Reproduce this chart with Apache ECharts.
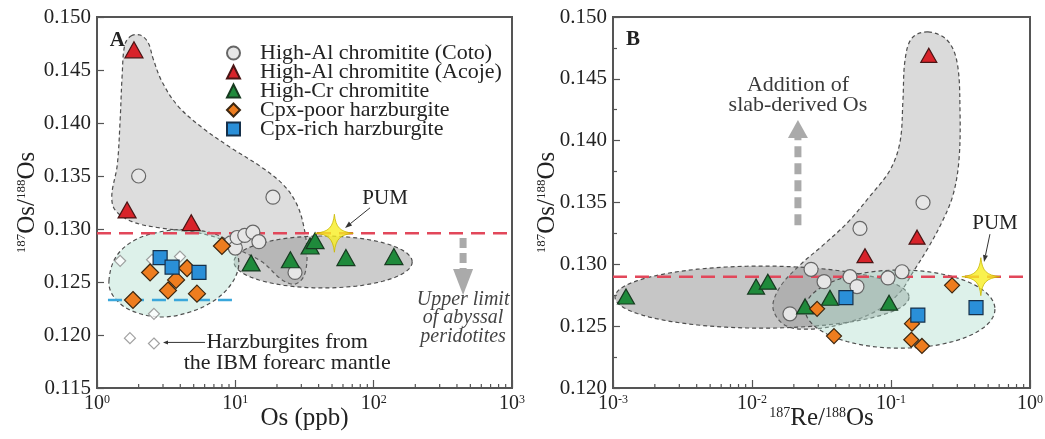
<!DOCTYPE html>
<html>
<head>
<meta charset="utf-8">
<script src="https://cdn.jsdelivr.net/npm/echarts@6/dist/echarts.min.js"></script>
<style>
  html, body { margin: 0; padding: 0; background: #fff; }
  #chart { width: 1045px; height: 439px; }
</style>
</head>
<body>
<div id="chart"></div>
<script>
// ---------- Panel A: Os concentration (ppb) vs 187Os/188Os ----------
const cotoA    = [[2.0,0.1350],[18.7,0.1330],[9.3,0.1287],[10.0,0.1282],[10.3,0.1292],[11.7,0.1294],[13.4,0.1297],[14.8,0.1288],[27,0.1259]];
const acojeA   = [[1.85,0.1469],[1.65,0.1318],[4.8,0.1306]];
const highCrA  = [[13,0.1268],[25,0.1271],[34.7,0.1284],[37.7,0.1289],[63,0.1273],[140,0.1274]];
const cpxPoorA = [[1.82,0.1233],[2.42,0.1259],[3.26,0.1242],[3.73,0.1252],[4.48,0.1263],[5.28,0.1239],[8.0,0.1284]];
const cpxRichA = [[2.86,0.1273],[3.49,0.1264],[5.46,0.1259]];
const ibmA     = [[1.47,0.1270],[2.5,0.1271],[3.98,0.1274],[2.58,0.1220],[1.73,0.1197],[2.58,0.1192]];
const pumA     = [[52,0.1296]];

// ---------- Panel B: 187Re/188Os vs 187Os/188Os ----------
const cotoB    = [[0.170,0.1350],[0.0598,0.1329],[0.0266,0.1296],[0.0330,0.1286],[0.0507,0.1290],[0.0569,0.1282],[0.0951,0.1289],[0.120,0.1294],[0.01875,0.1260]];
const acojeB   = [[0.187,0.1469],[0.154,0.1322],[0.065,0.1307]];
const highCrB  = [[0.00124,0.1274],[0.0107,0.1282],[0.0130,0.1286],[0.0241,0.1266],[0.0364,0.1273],[0.0968,0.1269]];
const cpxPoorB = [[0.0294,0.1264],[0.0389,0.1242],[0.1416,0.1252],[0.140,0.1239],[0.167,0.1234],[0.275,0.1283]];
const cpxRichB = [[0.0474,0.1273],[0.156,0.1259],[0.409,0.1265]];
const pumB     = [[0.443,0.1290]];

// Reference levels
const pumRatioA = 0.1296;
const pumRatioB = 0.1290;
const abyssalLimit = 0.1233;
const abyssalSpan = [1.2, 10.3];

// Field envelopes (data space)
const chromFieldA = [[1.76,0.1482],[2.05,0.1483],[2.34,0.1476],[2.54,0.1461],[2.95,0.1439],[3.85,0.1416],[5.84,0.1395],[9.46,0.1376],[15.6,0.1358],[22.5,0.1341],[27.9,0.1323],[31.4,0.1301],[33.0,0.1276],[31.4,0.1256],[27.0,0.1248],[21.8,0.1252],[15.6,0.1269],[10.8,0.1280],[8.0,0.1290],[5.11,0.1297],[2.86,0.1301],[1.79,0.1307],[1.35,0.1318],[1.28,0.1332],[1.40,0.1360],[1.47,0.1403],[1.52,0.1445],[1.59,0.1474]];
const harzFieldA  = [[1.22,0.1251],[1.37,0.12736],[1.88,0.12896],[3.10,0.12981],[5.11,0.1299],[7.75,0.12934],[9.79,0.12821],[10.6,0.1267],[9.46,0.12491],[7.13,0.1233],[4.70,0.12217],[2.86,0.1217],[1.73,0.12236],[1.31,0.12368]];
const crFieldA    = { center: [43.1, 0.12689], rLog: 0.644, ry: 0.00245 };
const chromFieldB = [[0.1845,0.14879],[0.253,0.14814],[0.2985,0.14636],[0.3136,0.14248],[0.3083,0.13843],[0.2793,0.1356],[0.2328,0.13342],[0.1845,0.13131],[0.1439,0.12937],[0.1161,0.12775],[0.0805,0.1263],[0.0467,0.12524],[0.0261,0.12476],[0.01726,0.12508],[0.01416,0.12646],[0.01589,0.12816],[0.02213,0.12994],[0.03245,0.13155],[0.0491,0.13342],[0.0706,0.13552],[0.0984,0.13762],[0.1161,0.13989],[0.1219,0.14329],[0.1262,0.14652],[0.1415,0.1483]];
const crFieldB    = { center: [0.0118, 0.12735], rLog: 1.058, ry: 0.00251 };
const harzFieldB  = { center: [0.1161, 0.12638], rLog: 0.683, ry: 0.00316 };

// Axis ranges and ticks
const yRangeA = [0.115, 0.150];
const yRangeB = [0.120, 0.150];
const xRangeA = [1, 1000];
const xRangeB = [0.001, 1];
const minorMult = [2,3,4,5,6,7,8,9];
const decadesA = [1, 10, 100];
const decadesB = [0.001, 0.01, 0.1];

const names = ['High-Al chromitite (Coto)','High-Al chromitite (Acoje)','High-Cr chromitite','Cpx-poor harzburgite','Cpx-rich harzburgite'];

const SERIF = '"Liberation Serif", "DejaVu Serif", serif';
const INK = '#222';
const FRAME = '#555';

function minorTicks(decades) {
  const out = [];
  decades.forEach(d => minorMult.forEach(m => out.push(+(d * m).toPrecision(3))));
  return out;
}

// ---------- render helpers ----------
function polyOutline(points, fill) {
  return function (params, api) {
    return {
      type: 'polygon',
      shape: { points: points.map(p => api.coord(p)), smooth: 0.35 },
      style: { fill: fill, stroke: '#4d4d4d', lineWidth: 1.2, lineDash: [4, 3] }
    };
  };
}
function ellipseOutline(f, fill) {
  return function (params, api) {
    const c = api.coord(f.center);
    const rx = api.coord([f.center[0] * Math.pow(10, f.rLog), f.center[1]])[0] - c[0];
    const ry = c[1] - api.coord([f.center[0], f.center[1] + f.ry])[1];
    const pts = [];
    for (let i = 0; i < 90; i++) {
      const t = i / 90 * Math.PI * 2;
      pts.push([c[0] + rx * Math.cos(t), c[1] + ry * Math.sin(t)]);
    }
    return {
      type: 'polygon',
      shape: { points: pts },
      style: { fill: fill, stroke: '#4d4d4d', lineWidth: 1.2, lineDash: [4, 3] }
    };
  };
}
function fieldSeries(grid, anchor, renderItem, z) {
  return { type: 'custom', xAxisIndex: grid, yAxisIndex: grid, data: [anchor], renderItem: renderItem, clip: true, silent: true, z: z };
}

function tickSeries(grid, values, yMin) {
  return {
    type: 'custom', xAxisIndex: grid, yAxisIndex: grid, silent: true, z: 6,
    data: values.map(v => [v, yMin]),
    renderItem: function (params, api) {
      const p = api.coord([api.value(0), api.value(1)]);
      return { type: 'line', shape: { x1: p[0], y1: p[1], x2: p[0], y2: p[1] - 4 }, style: { stroke: FRAME, lineWidth: 1.2 } };
    }
  };
}

// straight arrow (optionally dashed shaft) between two data points
function arrowSeries(grid, from, to, opt) {
  return {
    type: 'custom', xAxisIndex: grid, yAxisIndex: grid, silent: true, z: opt.z || 7,
    data: [from],
    renderItem: function (params, api) {
      const a = api.coord(from), b = api.coord(to);
      const dx = b[0] - a[0], dy = b[1] - a[1];
      const L = Math.sqrt(dx * dx + dy * dy), ux = dx / L, uy = dy / L;
      const bx = b[0] - ux * opt.head, by = b[1] - uy * opt.head;
      const hw = opt.headW / 2;
      return {
        type: 'group',
        children: [
          { type: 'line', shape: { x1: a[0], y1: a[1], x2: bx, y2: by },
            style: { stroke: opt.color, lineWidth: opt.width, lineDash: opt.dash || null } },
          { type: 'polygon', shape: { points: [[b[0], b[1]], [bx - uy * hw, by + ux * hw], [bx + uy * hw, by - ux * hw]] },
            style: { fill: opt.color } }
        ]
      };
    }
  };
}

function textSeries(grid, items) {
  return {
    type: 'custom', xAxisIndex: grid, yAxisIndex: grid, silent: true, z: 8,
    data: items.map(t => t.at),
    renderItem: function (params, api) {
      const t = items[params.dataIndex];
      const p = api.coord(t.at);
      return {
        type: 'text', x: p[0], y: p[1],
        style: { text: t.text, font: t.font, fill: t.color || INK, align: t.align || 'center', verticalAlign: 'middle' }
      };
    }
  };
}

const markerStyle = {
  coto:    { symbol: 'circle',   color: '#e6e6e6', border: '#666' },
  acoje:   { symbol: 'triangle', color: '#d8232a', border: '#4a1515' },
  highCr:  { symbol: 'triangle', color: '#1f8a3b', border: '#173a20' },
  cpxPoor: { symbol: 'diamond',  color: '#ee7d1f', border: '#3d2710' },
  cpxRich: { symbol: 'rect',     color: '#2a8fd8', border: '#16304a' }
};
function scatter(grid, name, data, st, size) {
  return {
    type: 'scatter', name: name, xAxisIndex: grid, yAxisIndex: grid, data: data,
    symbol: st.symbol, symbolSize: size, z: 5,
    itemStyle: { color: st.color, borderColor: st.border, borderWidth: 1.2, opacity: 1 },
    emphasis: { disabled: true }
  };
}

const STAR = 'path://M0,-20 C1.5,-6 6,-1.5 20,0 C6,1.5 1.5,6 0,20 C-1.5,6 -6,1.5 -20,0 C-6,-1.5 -1.5,-6 0,-20 Z';
function star(grid, data) {
  return {
    type: 'scatter', xAxisIndex: grid, yAxisIndex: grid, data: data, symbol: STAR, symbolSize: 38, z: 6,
    itemStyle: { color: '#f7ee22', borderColor: '#c9b800', borderWidth: 1 }, silent: true
  };
}
function hLine(grid, x0, x1, y, color) {
  return {
    type: 'line', xAxisIndex: grid, yAxisIndex: grid, data: [[x0, y], [x1, y]], symbol: 'none', z: 4, silent: true,
    lineStyle: { color: color, width: 2.5, type: [14, 8] }
  };
}

function logLabel(v) {
  const e = Math.round(Math.log10(v));
  return '10{s|' + e + '}';
}
function xAxis(grid, range, name) {
  return {
    gridIndex: grid, type: 'log', logBase: 10, min: range[0], max: range[1],
    name: name, nameLocation: 'middle', nameGap: 18, nameMoveOverlap: false,
    nameTextStyle: { fontFamily: SERIF, fontSize: 25, color: INK, rich: { s: { fontFamily: SERIF, fontSize: 14, color: INK, verticalAlign: 'top', padding: [0, 0, 10, 0] } } },
    axisLine: { show: false },
    axisTick: { inside: true, length: 8, lineStyle: { color: FRAME, width: 1.2 } },
    axisLabel: { margin: 6, fontFamily: SERIF, fontSize: 20, color: INK, formatter: logLabel,
      rich: { s: { fontFamily: SERIF, fontSize: 12, color: INK, verticalAlign: 'top', padding: [0, 0, 8, 0] } } },
    splitLine: { show: false }
  };
}
function yAxis(grid, range, minor, gap) {
  return {
    gridIndex: grid, type: 'value', min: range[0], max: range[1], interval: 0.005,
    name: '{s|187}Os/{s|188}Os', nameLocation: 'middle', nameRotate: 90, nameGap: gap, nameMoveOverlap: false,
    nameTextStyle: { fontFamily: SERIF, fontSize: 25, color: INK, rich: { s: { fontFamily: SERIF, fontSize: 13, color: INK, verticalAlign: 'top', padding: [0, 0, 10, 0] } } },
    axisLine: { show: false },
    axisTick: { inside: true, length: 7, lineStyle: { color: FRAME, width: 1.2 } },
    minorTick: { show: minor, splitNumber: 2, length: 4, lineStyle: { color: FRAME, width: 1.2 } },
    axisLabel: { margin: 6, fontFamily: SERIF, fontSize: 21, color: INK, formatter: v => v.toFixed(3) },
    splitLine: { show: false }
  };
}

const series = [
  // Panel A envelopes
  fieldSeries(0, chromFieldA[0], polyOutline(chromFieldA, 'rgba(150,150,150,0.32)'), 1),
  fieldSeries(0, crFieldA.center, ellipseOutline(crFieldA, 'rgba(120,120,120,0.38)'), 2),
  fieldSeries(0, harzFieldA[0], polyOutline(harzFieldA, 'rgba(175,222,205,0.42)'), 3),
  hLine(0, xRangeA[0], xRangeA[1], pumRatioA, '#e2475a'),
  hLine(0, abyssalSpan[0], abyssalSpan[1], abyssalLimit, '#3aa7db'),
  {
    type: 'scatter', xAxisIndex: 0, yAxisIndex: 0, data: ibmA, symbol: 'diamond', symbolSize: 11, z: 4, silent: true,
    itemStyle: { color: '#fff', borderColor: '#8a8a8a', borderWidth: 1.2 }
  },
  scatter(0, names[0], cotoA, markerStyle.coto, 14),
  scatter(0, names[1], acojeA, markerStyle.acoje, [18, 16]),
  scatter(0, names[2], highCrA, markerStyle.highCr, [18, 16]),
  scatter(0, names[3], cpxPoorA, markerStyle.cpxPoor, 17),
  scatter(0, names[4], cpxRichA, markerStyle.cpxRich, 14),
  star(0, pumA),
  tickSeries(0, minorTicks(decadesA), yRangeA[0]),
  arrowSeries(0, [443, 0.12915], [443, 0.12377], { color: '#aaaaaa', width: 7, head: 26, headW: 20, dash: [10, 5] }),
  arrowSeries(0, [94.2, 0.1320], [62.1, 0.1301], { color: '#333', width: 1, head: 7, headW: 5 }),
  arrowSeries(0, [6.04, 0.1193], [3.0, 0.1193], { color: '#333', width: 1, head: 5, headW: 4 }),
  textSeries(0, [
    { at: [1.40, 0.1478], text: 'A', font: 'bold 21px ' + SERIF },
    { at: [121, 0.1329], text: 'PUM', font: '21px ' + SERIF },
    { at: [443, 0.1233], text: 'Upper limit', font: 'italic 20px ' + SERIF, color: '#444' },
    { at: [443, 0.1216], text: 'of abyssal', font: 'italic 20px ' + SERIF, color: '#444' },
    { at: [443, 0.1198], text: 'peridotites', font: 'italic 20px ' + SERIF, color: '#444' },
    { at: [23.7, 0.11935], text: 'Harzburgites from', font: '22px ' + SERIF },
    { at: [23.7, 0.11737], text: 'the IBM forearc mantle', font: '22px ' + SERIF }
  ]),

  // Panel B envelopes
  fieldSeries(1, chromFieldB[0], polyOutline(chromFieldB, 'rgba(150,150,150,0.35)'), 1),
  fieldSeries(1, crFieldB.center, ellipseOutline(crFieldB, 'rgba(120,120,120,0.42)'), 2),
  fieldSeries(1, harzFieldB.center, ellipseOutline(harzFieldB, 'rgba(175,222,205,0.42)'), 3),
  hLine(1, xRangeB[0], xRangeB[1], pumRatioB, '#e2475a'),
  scatter(1, names[0], cotoB, markerStyle.coto, 14),
  scatter(1, names[1], acojeB, markerStyle.acoje, [16, 14]),
  scatter(1, names[2], highCrB, markerStyle.highCr, [17, 15]),
  scatter(1, names[3], cpxPoorB, markerStyle.cpxPoor, 15),
  scatter(1, names[4], cpxRichB, markerStyle.cpxRich, 14),
  star(1, pumB),
  tickSeries(1, minorTicks(decadesB), yRangeB[0]),
  arrowSeries(1, [0.0214, 0.13317], [0.0214, 0.14167], { color: '#aaaaaa', width: 7, head: 18, headW: 20, dash: [11, 6] }),
  arrowSeries(1, [0.515, 0.13244], [0.467, 0.13018], { color: '#333', width: 1, head: 7, headW: 5 }),
  textSeries(1, [
    { at: [0.00139, 0.14814], text: 'B', font: 'bold 21px ' + SERIF },
    { at: [0.0214, 0.1445], text: 'Addition of', font: '22px ' + SERIF, color: '#3a3a3a' },
    { at: [0.0214, 0.1429], text: 'slab-derived Os', font: '22px ' + SERIF, color: '#3a3a3a' },
    { at: [0.560, 0.13333], text: 'PUM', font: '21px ' + SERIF }
  ])
];

const chart = echarts.init(document.getElementById('chart'), null, { renderer: 'canvas' });
chart.setOption({
  animation: false,
  backgroundColor: '#fff',
  grid: [
    { left: 97, top: 17, width: 415, height: 371, show: true, borderColor: FRAME, borderWidth: 2, backgroundColor: 'transparent', containLabel: false, outerBoundsMode: 'none' },
    { left: 613, top: 17, width: 417, height: 371, show: true, borderColor: FRAME, borderWidth: 2, backgroundColor: 'transparent', containLabel: false, outerBoundsMode: 'none' }
  ],
  xAxis: [
    xAxis(0, xRangeA, 'Os (ppb)'),
    xAxis(1, xRangeB, '{s|187}Re/{s|188}Os')
  ],
  yAxis: [
    yAxis(0, yRangeA, false, 57),
    yAxis(1, yRangeB, true, 53)
  ],
  legend: {
    orient: 'vertical', left: 221, top: 37, itemWidth: 13, itemHeight: 13, itemGap: -3,
    selectedMode: false, data: names,
    textStyle: { fontFamily: SERIF, fontSize: 22, color: INK, lineHeight: 19, padding: [0, 0, 0, 15] }
  },
  series: series
});
</script>
</body>
</html>
